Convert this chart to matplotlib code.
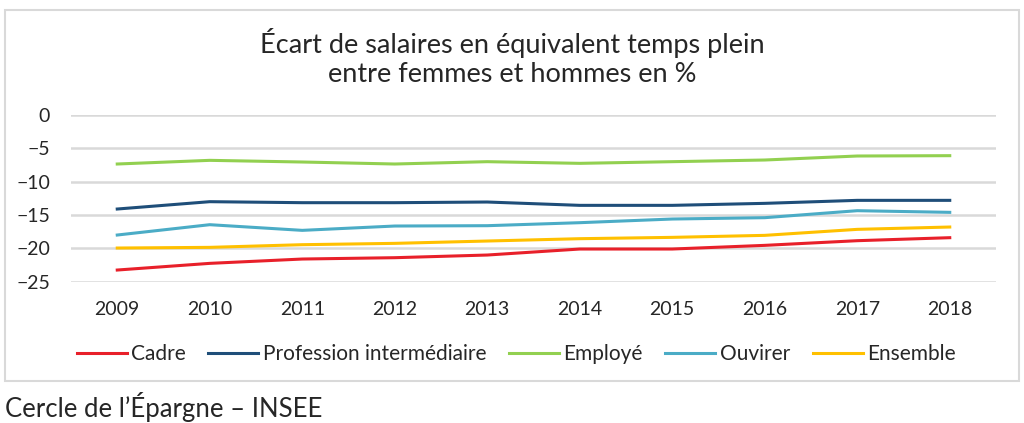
import matplotlib
matplotlib.use("Agg")
import matplotlib.pyplot as plt
from matplotlib.patches import Rectangle

years = [2009, 2010, 2011, 2012, 2013, 2014, 2015, 2016, 2017, 2018]
cadre = [-23.25, -22.25, -21.6, -21.4, -21.0, -20.1, -20.1, -19.55, -18.85, -18.4]
profession = [-14.1, -13.0, -13.15, -13.15, -13.05, -13.55, -13.55, -13.25, -12.8, -12.8]
employe = [-7.35, -6.8, -7.05, -7.35, -7.0, -7.25, -7.0, -6.75, -6.15, -6.1]
ouvrier = [-18.0, -16.45, -17.3, -16.65, -16.6, -16.15, -15.6, -15.4, -14.35, -14.6]
ensemble = [-19.95, -19.85, -19.45, -19.25, -18.9, -18.55, -18.35, -18.05, -17.15, -16.8]

series = [
    ("Cadre", cadre, "#e8202a"),
    ("Profession intermédiaire", profession, "#1f4e79"),
    ("Employé", employe, "#92d050"),
    ("Ouvirer", ouvrier, "#4bacc6"),
    ("Ensemble", ensemble, "#ffc000"),
]

plt.rcParams["font.family"] = ["Lato", "DejaVu Sans"]

fig = plt.figure(figsize=(10.24, 4.23), dpi=100)

# outer chart frame
fig.patches.append(Rectangle((5 / 1024, 1 - 381 / 423), 1014 / 1024, 371 / 423,
                             transform=fig.transFigure, fill=False,
                             edgecolor="#d9d9d9", linewidth=1.5))

ax = fig.add_axes([71 / 1024, 1 - 281.7 / 423, 925 / 1024, 166.7 / 423])
for label, vals, col in series:
    ax.plot(years, vals, color=col, linewidth=2.2, label=label)

ax.set_xlim(2008.5, 2018.5)
ax.set_ylim(-25, 0)
ax.set_yticks([0, -5, -10, -15, -20, -25])
ax.set_xticks(years)
ax.yaxis.grid(True, color="#d9d9d9", linewidth=1.8)
ax.set_axisbelow(True)
for s in ax.spines.values():
    s.set_visible(False)
ax.tick_params(length=0, labelsize=14, colors="#262626")
ax.tick_params(axis="x", pad=14)
ax.tick_params(axis="y", pad=15)

fig.text(0.5, 1 - 58 / 423, "Écart de salaires en équivalent temps plein\nentre femmes et hommes en %",
         ha="center", va="center", fontsize=19.5, color="#262626", linespacing=1.2)

fig.legend(loc="center", bbox_to_anchor=(0.504, 1 - 354 / 423), ncol=5, frameon=False,
           fontsize=15, handlelength=2.4, handletextpad=0.2, columnspacing=1.1,
           labelcolor="#262626")

fig.text(5 / 1024, 1 - 407 / 423, "Cercle de l\u2019Épargne \u2013 INSEE", ha="left", va="center",
         fontsize=18.5, color="#262626")

fig.savefig("out.png", dpi=100)
